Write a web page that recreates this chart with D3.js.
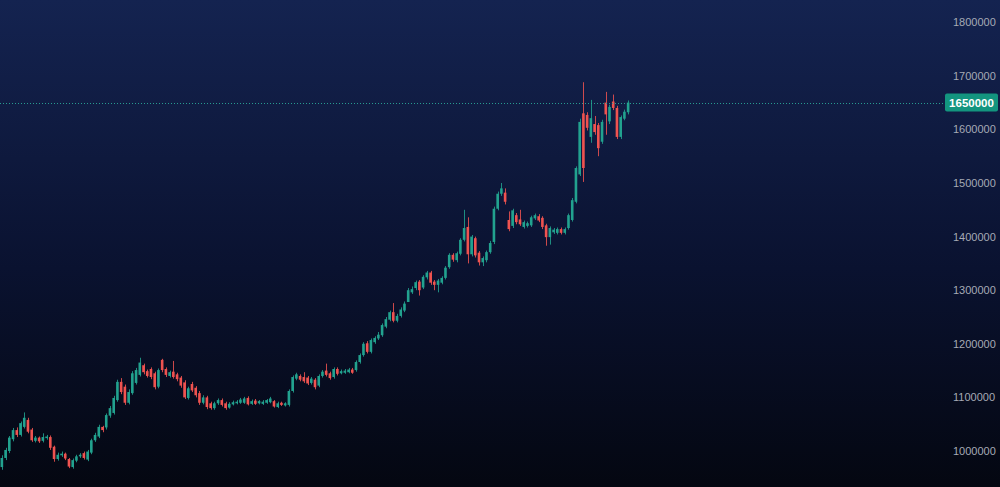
<!DOCTYPE html>
<html><head><meta charset="utf-8">
<script src="https://cdn.jsdelivr.net/npm/d3@7"></script>
<style>html,body{margin:0;padding:0;background:#060a18;overflow:hidden}</style>
</head><body><svg id="c" width="1000" height="487"></svg>
<script>
const opens = [970000,987000,1000000,1022000,1039000,1030000,1045000,1058000,1040000,1019000,1025000,1019000,1024000,1026000,1008000,985000,992000,995000,985000,970000,982000,990000,996000,984000,997000,1020000,1027000,1045000,1044000,1066000,1071000,1095000,1129000,1120000,1090000,
1108000,1127000,1142000,1160000,1149000,1153000,1145000,1120000,1170000,1153000,1140000,1148000,1143000,1137000,1128000,1099000,1125000,1118000,1108000,1090000,1100000,1089000,1080000,1089000,1095000,1089000,1081000,1087000,1089000,1090000,1090000,1099000,1088000,1094000,1089000,1088000,1090000,1091000,1093000,1082000,1090000,1085000,
1086000,1112000,1135000,1140000,1138000,1137000,1127000,1133000,1122000,1140000,1150000,1145000,1138000,1153000,1145000,1146000,1147000,1152000,1151000,1166000,1179000,1201000,1185000,1203000,1210000,1216000,1232000,1245000,1259000,1243000,
1252000,1262000,1278000,1296000,1304000,1316000,1305000,1324000,1333000,1316000,1310000,1314000,1323000,1343000,1366000,1356000,1368000,1394000,1418000,1367000,1397000,1370000,1352000,1356000,1371000,1390000,1452000,1480000,1482000,1431000,
1420000,1440000,1432000,1418000,1420000,1421000,1434000,1438000,1435000,1421000,1399000,1408000,1407000,1414000,1407000,1416000,1431000,1465000,1516000,1630000,1627000,1586000,1610000,1608000,1577000,1650000,1615000,1652000,1640000,1586000,1620000,1632000];
const highs = [992000,1006000,1028000,1043000,1044000,1055000,1072000,1062000,1043000,1028000,1027000,1033000,1030000,1029000,1010000,997000,999000,997000,987000,986000,993000,996000,999000,1002000,1023000,1034000,1049000,1047000,1070000,1084000,1103000,1133000,1136000,1124000,1115000,
1149000,1155000,1174000,1163000,1152000,1156000,1148000,1154000,1172000,1156000,1150000,1168000,1146000,1140000,1132000,1120000,1129000,1121000,1112000,1104000,1103000,1092000,1092000,1098000,1098000,1092000,1091000,1094000,1095000,1099000,1101000,1102000,1096000,1097000,1095000,1095000,1097000,1101000,1095000,1092000,1092000,1091000,
1115000,1141000,1146000,1143000,1147000,1140000,1138000,1136000,1143000,1151000,1163000,1148000,1156000,1156000,1152000,1153000,1155000,1155000,1169000,1182000,1203000,1205000,1210000,1214000,1222000,1238000,1250000,1262000,1276000,1256000,
1268000,1279000,1304000,1307000,1318000,1319000,1328000,1336000,1336000,1319000,1321000,1326000,1345000,1369000,1369000,1372000,1397000,1450000,1436000,1403000,1400000,1373000,1363000,1374000,1392000,1456000,1484000,1500000,1490000,1447000,
1452000,1444000,1450000,1430000,1428000,1439000,1443000,1442000,1438000,1424000,1419000,1416000,1417000,1417000,1417000,1443000,1472000,1531000,1620000,1688000,1632000,1655000,1625000,1612000,1618000,1670000,1646000,1665000,1644000,1626000,1637000,1654000];
const lows = [965000,983000,996000,1018000,1026000,1027000,1042000,1033000,1017000,1016000,1015000,1016000,1021000,1002000,980000,982000,989000,983000,968000,967000,979000,987000,984000,981000,994000,1017000,1024000,1035000,1040000,1062000,1068000,1092000,1106000,1086000,1087000,
1105000,1124000,1139000,1143000,1137000,1134000,1115000,1117000,1147000,1138000,1137000,1135000,1130000,1118000,1097000,1096000,1110000,1100000,1086000,1087000,1078000,1077000,1077000,1086000,1083000,1077000,1079000,1085000,1087000,1088000,1088000,1085000,1086000,1086000,1087000,1086000,1088000,1089000,1081000,1080000,1084000,1083000,
1083000,1109000,1132000,1130000,1127000,1123000,1124000,1115000,1119000,1137000,1139000,1133000,1135000,1141000,1143000,1144000,1145000,1144000,1148000,1163000,1176000,1182000,1182000,1200000,1207000,1213000,1229000,1242000,1240000,1240000,
1249000,1259000,1278000,1293000,1300000,1290000,1302000,1320000,1310000,1300000,1296000,1311000,1320000,1340000,1353000,1352000,1365000,1391000,1350000,1363000,1361000,1346000,1345000,1352000,1368000,1386000,1449000,1476000,1460000,1410000,
1416000,1423000,1420000,1415000,1417000,1418000,1431000,1427000,1414000,1383000,1385000,1405000,1404000,1404000,1404000,1413000,1428000,1462000,1513000,1502000,1598000,1575000,1590000,1550000,1573000,1590000,1610000,1636000,1582000,1582000,1617000,1628000];
const closes = [987000,1002000,1025000,1039000,1030000,1052000,1062000,1036000,1020000,1025000,1018000,1026000,1027000,1006000,985000,993000,995000,986000,971000,983000,990000,993000,987000,999000,1020000,1030000,1045000,1039000,1067000,1080000,1099000,1129000,1110000,1090000,1110000,
1145000,1151000,1165000,1147000,1140000,1138000,1119000,1151000,1151000,1142000,1147000,1138000,1134000,1122000,1100000,1117000,1113000,1104000,1090000,1100000,1082000,1080000,1089000,1095000,1086000,1080000,1088000,1091000,1092000,1096000,1098000,1087000,1093000,1088000,1093000,1092000,1095000,1098000,1083000,1089000,1086000,1089000,
1112000,1138000,1143000,1133000,1130000,1126000,1135000,1119000,1140000,1148000,1142000,1136000,1153000,1144000,1149000,1150000,1152000,1146000,1166000,1179000,1200000,1185000,1207000,1211000,1217000,1235000,1246000,1259000,1243000,1252000,
1264000,1275000,1300000,1302000,1315000,1300000,1325000,1333000,1314000,1310000,1318000,1323000,1342000,1366000,1357000,1369000,1394000,1416000,1367000,1400000,1365000,1352000,1360000,1371000,1388000,1452000,1480000,1490000,1465000,1414000,
1449000,1427000,1423000,1427000,1425000,1436000,1440000,1430000,1418000,1399000,1416000,1413000,1414000,1407000,1414000,1440000,1468000,1528000,1614000,1528000,1603000,1621000,1595000,1565000,1614000,1628000,1642000,1640000,1586000,1623000,1633000,1650000];
const axisTicks = [1000000,1100000,1200000,1300000,1400000,1500000,1600000,1700000,1800000];
const lastPrice = 1650000;

const W = 1000, H = 487;
const svg = d3.select('#c');
const defs = svg.append('defs');
const g = defs.append('linearGradient').attr('id','bg').attr('x1',0).attr('y1',0).attr('x2',0).attr('y2',1);
g.append('stop').attr('offset','0%').attr('stop-color','#142350');
g.append('stop').attr('offset','55%').attr('stop-color','#0a1230');
g.append('stop').attr('offset','100%').attr('stop-color','#040711');
svg.append('rect').attr('width',W).attr('height',H).attr('fill','url(#bg)');

const data = opens.map((o,i)=>({i,o,h:highs[i],l:lows[i],c:closes[i]}));
const x = d3.scaleBand().domain(data.map(d=>d.i)).range([0,630]).paddingInner(0.3).paddingOuter(0.15);
const y = d3.scaleLinear().domain([1000000,1800000]).range([451,22.2]);
const up = '#22a28f', dn = '#ef5350';

const cg = svg.append('g');
const cs = cg.selectAll('g').data(data).join('g');
cs.append('line')
  .attr('x1',d=>Math.round(x(d.i)+x.bandwidth()/2)+0.5).attr('x2',d=>Math.round(x(d.i)+x.bandwidth()/2)+0.5)
  .attr('y1',d=>y(d.h)).attr('y2',d=>y(d.l))
  .attr('stroke',d=>d.c>=d.o?up:dn).attr('stroke-width',1).attr('opacity',0.85);
cs.append('rect')
  .attr('x',d=>x(d.i)).attr('width',x.bandwidth())
  .attr('y',d=>y(Math.max(d.o,d.c)))
  .attr('height',d=>Math.max(1,Math.abs(y(d.o)-y(d.c))))
  .attr('fill',d=>d.c>=d.o?up:dn);

// right axis
const axis = d3.axisRight(y).tickValues(axisTicks).tickSize(0).tickPadding(0).tickFormat(d3.format('d'));
const ag = svg.append('g').attr('transform','translate(953,0)').call(axis);
ag.select('.domain').remove();
ag.selectAll('text').attr('fill','#a6aab5').attr('font-family','Liberation Sans, Arial, sans-serif').attr('font-size','11px');

// last price line and label
svg.append('line').attr('x1',0).attr('x2',945).attr('y1',Math.round(y(lastPrice))+0.5).attr('y2',Math.round(y(lastPrice))+0.5)
  .attr('stroke','#2aa99a').attr('stroke-width',1).attr('stroke-dasharray','1,2').attr('opacity',0.9);
svg.append('rect').attr('x',945).attr('y',y(lastPrice)-9).attr('width',53).attr('height',18).attr('rx',2).attr('fill','#13957f');
svg.append('text').attr('x',971.5).attr('y',y(lastPrice)).attr('dy','0.35em').attr('text-anchor','middle')
  .attr('fill','#ffffff').attr('font-family','Liberation Sans, Arial, sans-serif').attr('font-size','11.5px').attr('font-weight','bold')
  .text(d3.format('d')(lastPrice));
</script></body></html>
